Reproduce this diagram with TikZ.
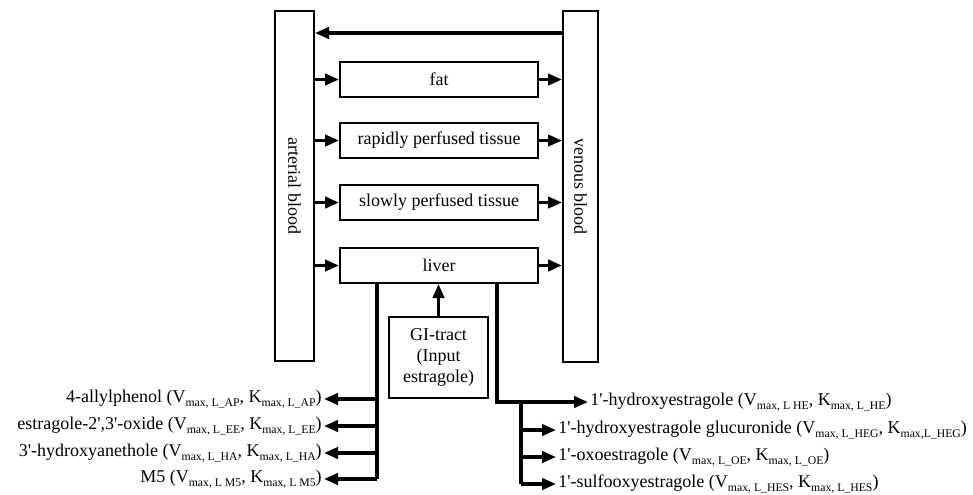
\documentclass[tikz,border=0pt]{standalone}
\usepackage{fontspec}
\setmainfont{Liberation Serif}
\usetikzlibrary{arrows.meta}
% lowered small text for the kinetic-parameter indices
\newcommand\sbs[1]{\raisebox{-0.45ex}{\fontsize{8.8}{9}\selectfont #1}}
\newcommand\pr{\textquotesingle}
\tikzset{
  boxed/.style={draw, line width=1.5pt, inner sep=0pt, font=\fontsize{13.5}{16}\selectfont},
  tissue/.style={boxed, minimum width=148.5pt, minimum height=26.25pt},
  lab/.style={inner sep=1.5pt, font=\fontsize{13.5}{16}\selectfont},
  flow/.style={line width=2.4pt, -{Triangle[length=10.5pt,width=8.5pt]}},
  plain/.style={line width=2.4pt}
}
\begin{document}
\begin{tikzpicture}[x=0.75pt, y=-0.75pt]
\useasboundingbox (0,0) rectangle (973,494);

% blood compartments
\node[boxed, minimum width=29.25pt, minimum height=262.5pt] (art) at (294.5,186) {};
\node[rotate=-90, font=\fontsize{13.5}{16}\selectfont] (artlab) at (art.center) {arterial blood};
\node[boxed, minimum width=26.25pt, minimum height=263.25pt] (ven) at (580.5,186.5) {};
\node[rotate=-90, font=\fontsize{13.5}{16}\selectfont] (venlab) at (ven.center) {venous blood};

% tissue compartments
\node[tissue] (fat) at (439,79.5) {fat};
\node[tissue] (rap) at (439,140.5) {rapidly perfused tissue};
\node[tissue] (slow) at (439,202.5) {slowly perfused tissue};
\node[tissue] (liver) at (439,265.5) {liver};

% oral input
\node[boxed, minimum width=74.25pt, minimum height=60.75pt, align=center] (gi) at (438.5,357.5) {GI-tract\\(Input\\estragole)};

% venous return
\coordinate (ret) at (0,33);
\draw[flow] (ven.west |- ret) -- (art.east |- ret);

% blood flows through tissues
\foreach \t in {fat,rap,slow,liver}{
  \draw[flow] (art.east |- \t.west) -- (\t.west);
  \draw[flow] (\t.east) -- (ven.west |- \t.east);
}

% uptake from the GI tract
\draw[flow] (gi.north) -- (gi.north |- liver.south);

% metabolites formed in the liver (left branch)
\node[lab, anchor=east] (ap) at (324,399) {4-allylphenol (V\sbs{max}\sbs{, L\_AP}, K\sbs{max}\sbs{, L\_AP})};
\node[lab, anchor=east] (ee) at (324,426) {estragole-2\pr,3\pr-oxide (V\sbs{max}\sbs{, L\_EE}, K\sbs{max}\sbs{, L\_EE})};
\node[lab, anchor=east] (ha) at (324,453) {3\pr-hydroxyanethole (V\sbs{max}\sbs{, L\_HA}, K\sbs{max}\sbs{, L\_HA})};
\node[lab, anchor=east] (m5) at (324,479) {M5 (V\sbs{max}\sbs{, L M5}, K\sbs{max}\sbs{, L M5})};
\coordinate (lx) at (377,0);
\draw[plain] (liver.south -| lx) -- (lx |- m5.east);
\foreach \m in {ap,ee,ha,m5}{
  \draw[flow] (lx |- \m.east) -- (\m.east);
}

% metabolites formed in the liver (right branch)
\node[lab, anchor=west] (he) at (588,402) {1\pr-hydroxyestragole (V\sbs{max}\sbs{, L HE}, K\sbs{max}\sbs{, L\_HE})};
\node[lab, anchor=west] (heg) at (556,430) {1\pr-hydroxyestragole glucuronide (V\sbs{max}\sbs{, L\_HEG}, K\sbs{max}\sbs{,L\_HEG})};
\node[lab, anchor=west] (oe) at (556,457) {1\pr-oxoestragole (V\sbs{max}\sbs{, L\_OE}, K\sbs{max}\sbs{, L\_OE})};
\node[lab, anchor=west] (hes) at (556,484) {1\pr-sulfooxyestragole (V\sbs{max}\sbs{, L\_HES}, K\sbs{max}\sbs{, L\_HES})};
\coordinate (rx) at (497,0);
\coordinate (bx) at (521,0);
\draw[flow] (liver.south -| rx) |- (he.west);
\draw[plain] (bx |- he.west) -- (bx |- hes.west);
\foreach \m in {heg,oe,hes}{
  \draw[flow] (bx |- \m.west) -- (\m.west);
}
\end{tikzpicture}
\end{document}
